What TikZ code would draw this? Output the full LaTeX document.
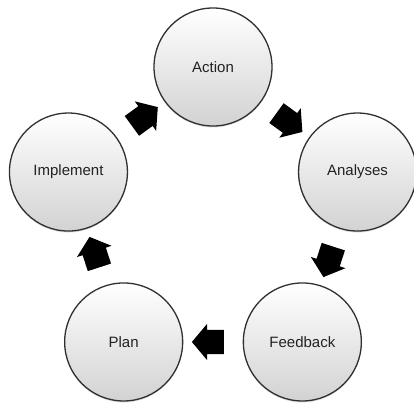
\documentclass[tikz,border=0pt]{standalone}
\usepackage{fontspec}
\setmainfont{Liberation Sans}
\usetikzlibrary{calc,shapes.arrows,shadows}
\definecolor{ringline}{HTML}{303030}
\definecolor{labeltext}{HTML}{222222}
\tikzset{
  stage/.style={circle, draw=ringline, line width=1.3pt, minimum size=118pt, inner sep=0pt,
    top color=white, bottom color=gray!35, shading angle=0,
    font=\fontsize{15}{18}\selectfont, text=labeltext,
    drop shadow={shadow xshift=0pt, shadow yshift=-1.5pt, opacity=0.25}},
  blockarrow/.style={single arrow, fill=black, draw=none, inner xsep=0pt, inner ysep=12pt,
    minimum height=32pt, single arrow head extend=6pt,
    single arrow tip angle=100, single arrow head indent=0pt,
    sloped, allow upside down}
}
\begin{document}
\begin{tikzpicture}[x=1pt,y=1pt]
\useasboundingbox (0,0) rectangle (414,402);
\coordinate (c) at (213,183);
\node[stage] (action)    at ($(c)+(90:152pt)$)   {Action};
\node[stage] (analyses)  at ($(c)+(18:152pt)$)   {Analyses};
\node[stage] (feedback)  at ($(c)+(-54:152pt)$)  {Feedback};
\node[stage] (plan)      at ($(c)+(-126:152pt)$) {Plan};
\node[stage] (implement) at ($(c)+(162:152pt)$)  {Implement};
\path (implement.center) -- node[blockarrow] (a1) {} (action.center);
\path (action.center) -- node[blockarrow] (a2) {} (analyses.center);
\path (analyses.center) -- node[blockarrow] (a3) {} (feedback.center);
\path (feedback.center) -- node[blockarrow] (a4) {} (plan.center);
\path (plan.center) -- node[blockarrow] (a5) {} (implement.center);
\end{tikzpicture}
\end{document}
